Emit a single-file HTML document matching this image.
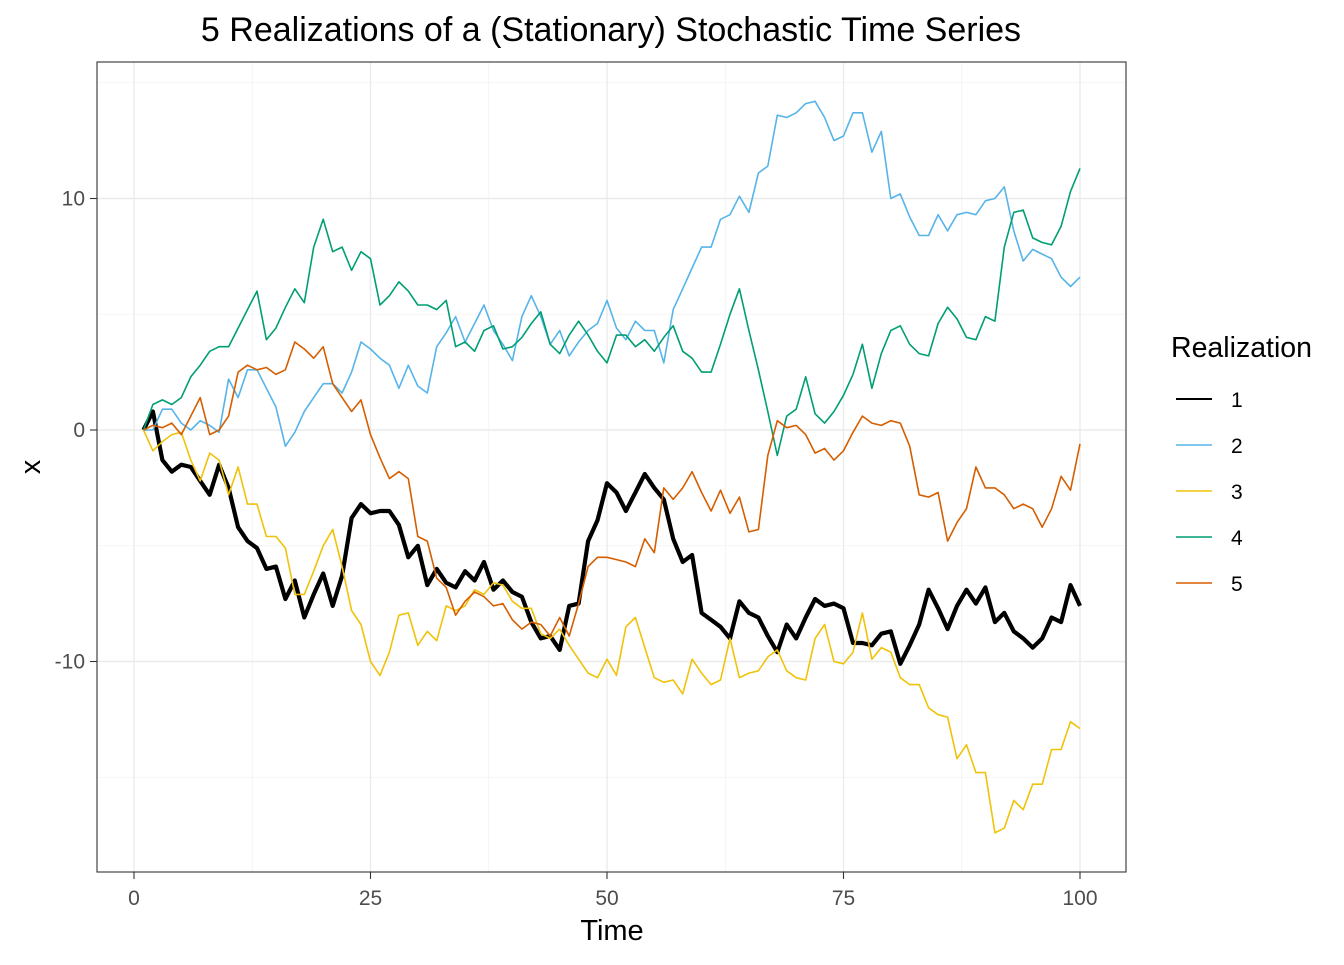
<!DOCTYPE html>
<html><head><meta charset="utf-8"><style>
body{margin:0;background:#fff;}
svg text{font-family:"Liberation Sans",Arial,sans-serif;}
</style></head><body>
<svg id="chart" width="1344" height="960" xmlns="http://www.w3.org/2000/svg">
<rect width="1344" height="960" fill="#fff"/>
<g id="grid"></g>
<g id="series"></g>
<rect x="97" y="62" width="1029" height="810" fill="none" stroke="#333" stroke-width="1.1"/>
<g id="axes"></g>
<text x="611" y="41" font-size="34" text-anchor="middle" fill="#000">5 Realizations of a (Stationary) Stochastic Time Series</text>
<text x="612" y="940" font-size="29" text-anchor="middle" fill="#000">Time</text>
<text transform="translate(40,467) rotate(-90)" font-size="29" text-anchor="middle" fill="#000">x</text>
<g id="legend">
<text x="1171" y="357" font-size="28.5" fill="#000">Realization</text>
</g>
</svg>
<script>
const timeSteps = Array.from({length:100},(_,i)=>i+1);
const s1 = [0,0.8,-1.3,-1.8,-1.5,-1.6,-2.2,-2.8,-1.5,-2.5,-4.2,-4.8,-5.1,-6.0,-5.9,-7.3,-6.5,-8.1,-7.1,-6.2,-7.6,-6.3,-3.8,-3.2,-3.6,-3.5,-3.5,-4.1,-5.5,-5.0,-6.7,-6.0,-6.6,-6.8,-6.1,-6.5,-5.7,-6.9,-6.5,-7.0,-7.2,-8.3,-9.0,-8.9,-9.5,-7.6,-7.5,-4.8,-3.9,-2.3,-2.7,-3.5,-2.7,-1.9,-2.5,-3.0,-4.7,-5.7,-5.4,-7.9,-8.2,-8.5,-9.0,-7.4,-7.9,-8.1,-8.9,-9.6,-8.4,-9.0,-8.1,-7.3,-7.6,-7.5,-7.7,-9.2,-9.2,-9.3,-8.8,-8.7,-10.1,-9.3,-8.4,-6.9,-7.7,-8.6,-7.6,-6.9,-7.5,-6.8,-8.3,-7.9,-8.7,-9.0,-9.4,-9.0,-8.1,-8.3,-6.7,-7.6];
const s2 = [0,0,0.9,0.9,0.3,0.0,0.4,0.2,-0.1,2.2,1.4,2.6,2.6,1.8,1.0,-0.7,-0.1,0.8,1.4,2.0,2.0,1.6,2.5,3.8,3.5,3.1,2.8,1.8,2.8,1.9,1.6,3.6,4.2,4.9,3.8,4.6,5.4,4.3,3.7,3.0,4.9,5.8,4.9,3.7,4.3,3.2,3.8,4.3,4.6,5.6,4.4,3.9,4.7,4.3,4.3,2.9,5.2,6.1,7.0,7.9,7.9,9.1,9.3,10.1,9.4,11.1,11.4,13.6,13.5,13.7,14.1,14.2,13.5,12.5,12.7,13.7,13.7,12.0,12.9,10.0,10.2,9.2,8.4,8.4,9.3,8.6,9.3,9.4,9.3,9.9,10.0,10.5,8.6,7.3,7.8,7.6,7.4,6.6,6.2,6.6];
const s3 = [0,-0.9,-0.5,-0.2,-0.1,-1.3,-2.2,-1.0,-1.3,-2.8,-1.6,-3.2,-3.2,-4.6,-4.6,-5.1,-7.1,-7.1,-6.1,-5.0,-4.3,-5.9,-7.8,-8.4,-10.0,-10.6,-9.6,-8.0,-7.9,-9.3,-8.7,-9.1,-7.6,-7.8,-7.6,-6.9,-7.1,-6.6,-6.7,-7.4,-7.7,-7.7,-8.8,-9.0,-8.6,-9.3,-9.9,-10.5,-10.7,-9.9,-10.6,-8.5,-8.1,-9.4,-10.7,-10.9,-10.8,-11.4,-9.9,-10.5,-11.0,-10.8,-9.0,-10.7,-10.5,-10.4,-9.8,-9.5,-10.4,-10.7,-10.8,-9.0,-8.4,-10.0,-10.1,-9.6,-7.9,-9.9,-9.4,-9.6,-10.7,-11.0,-11.0,-12.0,-12.3,-12.4,-14.2,-13.6,-14.8,-14.8,-17.4,-17.2,-16.0,-16.4,-15.3,-15.3,-13.8,-13.8,-12.6,-12.9];
const s4 = [0,1.1,1.3,1.1,1.4,2.3,2.8,3.4,3.6,3.6,4.4,5.2,6.0,3.9,4.4,5.3,6.1,5.5,7.9,9.1,7.7,7.9,6.9,7.7,7.4,5.4,5.8,6.4,6.0,5.4,5.4,5.2,5.6,3.6,3.8,3.4,4.3,4.5,3.5,3.6,4.0,4.6,5.1,3.7,3.3,4.1,4.7,4.1,3.4,2.9,4.1,4.1,3.6,3.9,3.4,4.0,4.5,3.4,3.1,2.5,2.5,3.7,5.0,6.1,4.3,2.6,0.8,-1.1,0.6,0.9,2.3,0.7,0.3,0.8,1.5,2.4,3.7,1.8,3.3,4.3,4.5,3.7,3.3,3.2,4.6,5.3,4.8,4.0,3.9,4.9,4.7,7.9,9.4,9.5,8.3,8.1,8.0,8.8,10.3,11.3];
const s5 = [0,0.2,0.1,0.3,-0.2,0.6,1.4,-0.2,0.0,0.6,2.5,2.8,2.6,2.7,2.4,2.6,3.8,3.5,3.1,3.6,2.0,1.4,0.8,1.3,-0.2,-1.2,-2.1,-1.8,-2.1,-4.6,-4.8,-6.4,-6.8,-8.0,-7.4,-7.0,-7.2,-7.6,-7.5,-8.2,-8.6,-8.3,-8.4,-8.9,-8.1,-8.9,-7.5,-5.9,-5.5,-5.5,-5.6,-5.7,-5.9,-4.7,-5.3,-2.5,-3.0,-2.5,-1.8,-2.7,-3.5,-2.6,-3.6,-2.9,-4.4,-4.3,-1.1,0.4,0.1,0.2,-0.2,-1.0,-0.8,-1.3,-0.9,-0.1,0.6,0.3,0.2,0.4,0.3,-0.7,-2.8,-2.9,-2.7,-4.8,-4.0,-3.4,-1.6,-2.5,-2.5,-2.8,-3.4,-3.2,-3.4,-4.2,-3.4,-2.0,-2.6,-0.6];
const seriesNames = ["1","2","3","4","5"];
const xTicks = [0,25,50,75,100];
const yTicks = [-10,0,10];

const NS="http://www.w3.org/2000/svg";
const xScale = t => 134 + t*9.46;
const yScale = v => 430 - v*23.15;
const allSeries=[s1,s2,s3,s4,s5];
const colors=["#000000","#56B4E9","#F0C20A","#009E73","#D55E00"];
const widths=[4.2,1.6,1.6,1.6,1.6];
function mk(tag,attrs,parent){const e=document.createElementNS(NS,tag);for(const k in attrs)e.setAttribute(k,attrs[k]);parent.appendChild(e);return e;}
const grid=document.getElementById('grid');
[12.5,37.5,62.5,87.5].forEach(t=>{const l=mk('line',{x1:xScale(t),x2:xScale(t),y1:62,y2:872,stroke:'#f2f2f2','stroke-width':0.8},grid);

});
[-15,-5,5,15].forEach(v=>{const l=mk('line',{x1:97,x2:1126,y1:yScale(v),y2:yScale(v),stroke:'#f2f2f2','stroke-width':0.8},grid);

});
xTicks.forEach(t=>{const l=mk('line',{x1:xScale(t),x2:xScale(t),y1:62,y2:872,stroke:'#ebebeb','stroke-width':1.4},grid);

});
yTicks.forEach(v=>{const l=mk('line',{x1:97,x2:1126,y1:yScale(v),y2:yScale(v),stroke:'#ebebeb','stroke-width':1.4},grid);

});
const axes=document.getElementById('axes');
xTicks.forEach(t=>{const l=mk('line',{x1:xScale(t),x2:xScale(t),y1:872,y2:879,stroke:'#333','stroke-width':1.1},axes);


const tx=mk('text',{x:xScale(t),y:905,'font-size':21,'text-anchor':'middle',fill:'#4d4d4d'},axes);tx.textContent=t;

});
yTicks.forEach(v=>{const l=mk('line',{x1:90,x2:97,y1:yScale(v),y2:yScale(v),stroke:'#333','stroke-width':1.1},axes);


const tx=mk('text',{x:85,y:yScale(v)+7,'font-size':21,'text-anchor':'end',fill:'#4d4d4d'},axes);tx.textContent=v;

});
const sg=document.getElementById('series');
allSeries.forEach((s,i)=>{const pts=s.map((v,j)=>xScale(timeSteps[j]).toFixed(1)+','+yScale(v).toFixed(1)).join(' ');
const p=mk('polyline',{points:pts,fill:'none',stroke:colors[i],'stroke-width':widths[i],'stroke-linejoin':'round'},sg);

});
const lg=document.getElementById('legend');
seriesNames.forEach((n,i)=>{const y=399+i*46;
const g=mk('g',{},lg);


mk('line',{x1:1176,x2:1212,y1:y,y2:y,stroke:colors[i],'stroke-width':i===0?2:1.6},g);
const t=mk('text',{x:1231,y:y+8,'font-size':21,fill:'#000'},g);t.textContent=n;});
</script>
</body></html>
